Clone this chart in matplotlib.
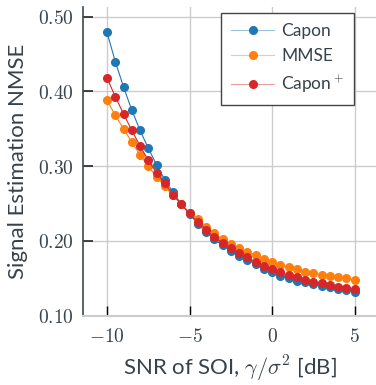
import matplotlib
matplotlib.use('Agg')
import matplotlib.pyplot as plt
from matplotlib.colors import to_rgb
from matplotlib.ticker import FuncFormatter

plt.rcParams['mathtext.fontset'] = 'cm'
plt.rcParams['font.family'] = ['Lato', 'DejaVu Sans']

# SNR (dB) and NMSE values
snr = [-10, -9.5, -9, -8.5, -8, -7.5, -7, -6.5, -6, -5.5, -5, -4.5, -4, -3.5, -3, -2.5,
       -2, -1.5, -1, -0.5, 0, 0.5, 1, 1.5, 2, 2.5, 3, 3.5, 4, 4.5, 5]
capon = [0.479, 0.440, 0.406, 0.375, 0.348, 0.324, 0.302, 0.282, 0.265, 0.249, 0.236,
         0.223, 0.212, 0.202, 0.194, 0.187, 0.1805, 0.175, 0.169, 0.163, 0.158, 0.153,
         0.150, 0.147, 0.1445, 0.142, 0.140, 0.138, 0.1355, 0.134, 0.132]
mmse = [0.388, 0.368, 0.350, 0.332, 0.315, 0.300, 0.286, 0.273, 0.261, 0.249, 0.238,
        0.229, 0.219, 0.210, 0.202, 0.196, 0.190, 0.185, 0.181, 0.176, 0.172, 0.168,
        0.165, 0.162, 0.159, 0.157, 0.155, 0.153, 0.1515, 0.150, 0.148]
capon_plus = [0.418, 0.393, 0.370, 0.348, 0.327, 0.308, 0.291, 0.277, 0.262, 0.249, 0.237,
              0.225, 0.215, 0.205, 0.197, 0.190, 0.1835, 0.178, 0.172, 0.167, 0.163, 0.158,
              0.154, 0.1515, 0.148, 0.1457, 0.1437, 0.141, 0.139, 0.1377, 0.136]

txt = '#37424a'
colors = ['#1f77b4', '#ff7f0e', '#d62728']

fig = plt.figure(figsize=(3.76, 3.85), dpi=100)
ax = fig.add_axes([0.221, 0.179, 0.779, 0.803])

ax.plot(snr, capon, marker='o', ms=5.5, lw=0.8, color=colors[0], label='Capon')
ax.plot(snr, mmse, marker='o', ms=5.5, lw=0.8, color=colors[1], label='MMSE')
ax.plot(snr, capon_plus, marker='o', ms=5.5, lw=0.8, color=colors[2], label='Capon$^+$')

ax.set_xlim(-11.45, 6.3)
ax.set_ylim(0.0995, 0.513)
ax.set_xticks([-10, -5, 0, 5])
ax.set_yticks([0.10, 0.20, 0.30, 0.40, 0.50])
ax.xaxis.set_major_formatter(FuncFormatter(lambda v, p: f'${v:.0f}$'))
ax.yaxis.set_major_formatter(FuncFormatter(lambda v, p: f'${v:.2f}$'))

ax.grid(True, color='#cccccc', lw=1)
ax.set_axisbelow(True)
ax.tick_params(axis='y', direction='in', length=7, width=1.3, color='#333333',
               labelsize=14, labelcolor=txt, pad=7)
ax.tick_params(axis='x', direction='in', length=7, width=1, color='black',
               labelsize=14, labelcolor=txt, pad=8)

for s in ['top', 'right']:
    ax.spines[s].set_visible(False)
ax.spines['left'].set_color('#3d4a52')
ax.spines['left'].set_linewidth(1.2)
ax.spines['bottom'].set_color('#cccccc')
ax.spines['bottom'].set_linewidth(1.5)

ax.set_xlabel('SNR of SOI, $\\gamma/\\sigma^2$ [dB]', fontsize=16, color=txt, labelpad=6)
ax.set_ylabel('Signal Estimation NMSE', fontsize=16, color=txt, labelpad=7)

leg = ax.legend(loc='upper right', bbox_to_anchor=(0.925, 0.98), borderaxespad=0,
                fontsize=12.5, fancybox=False, framealpha=1, edgecolor='#444444',
                handlelength=2.5, handletextpad=0.4, borderpad=0.55, labelspacing=0.55)
leg.get_frame().set_linewidth(1)
for t in leg.get_texts():
    t.set_color(txt)
# lighter line in the legend, solid marker
for h, c in zip(leg.get_lines(), colors):
    light = tuple(0.45 * v + 0.55 for v in to_rgb(c))
    h.set_color(light)
    h.set_markerfacecolor(c)
    h.set_markeredgecolor(c)

fig.savefig('out.png', dpi=100)
